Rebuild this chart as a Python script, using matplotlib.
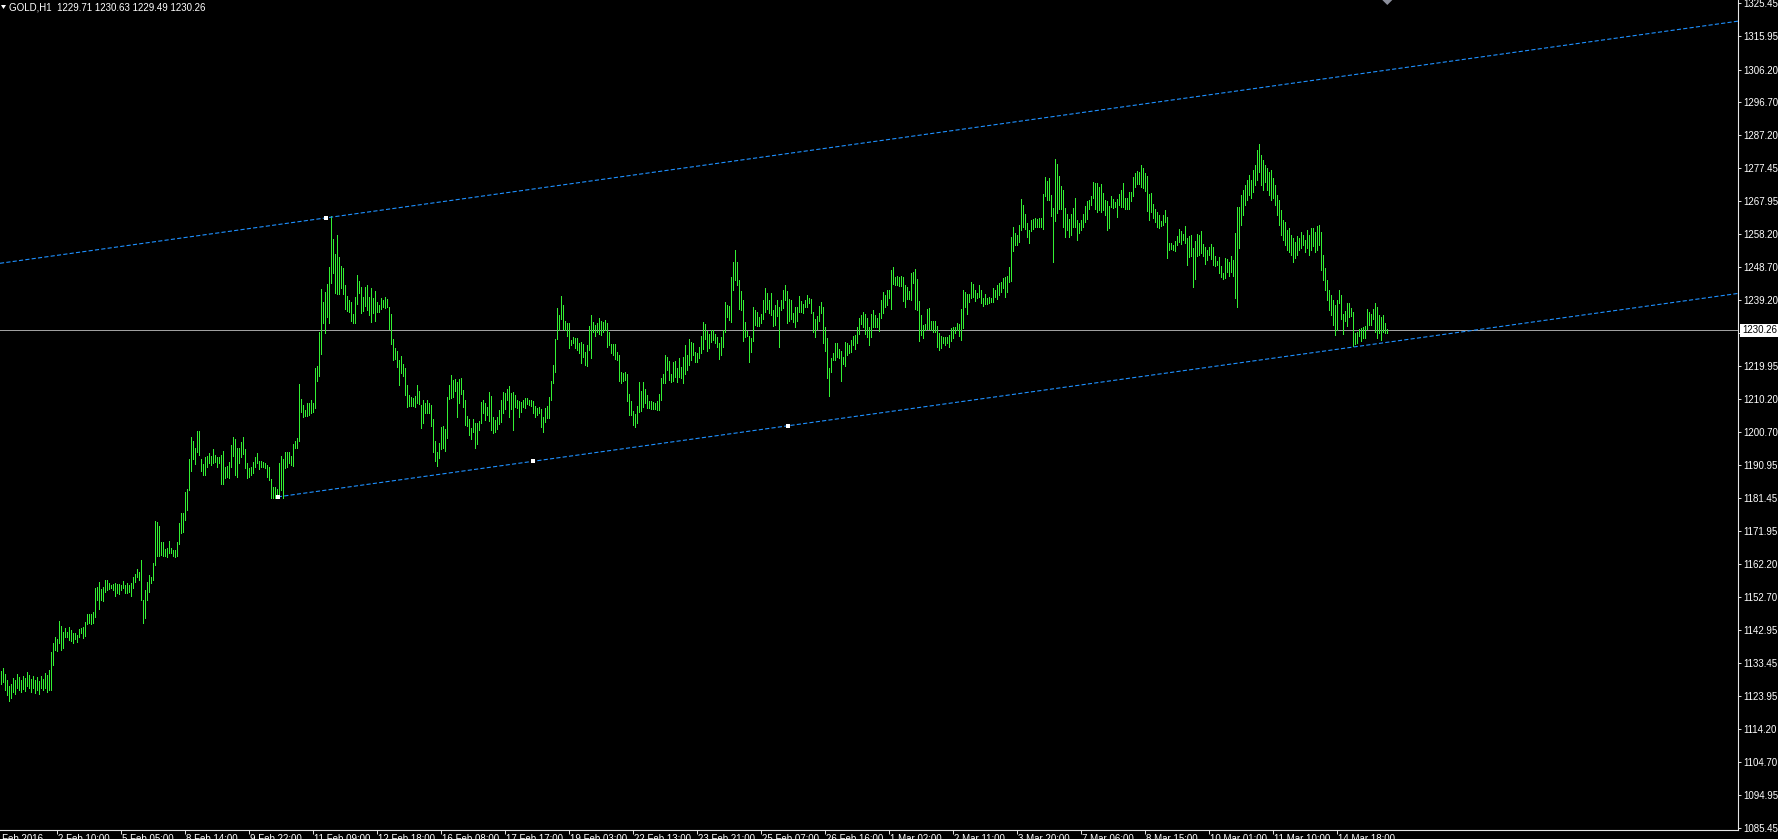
import matplotlib
matplotlib.use("Agg")
import matplotlib.pyplot as plt
from matplotlib.transforms import blended_transform_factory
from matplotlib.patches import Polygon

plt.rcParams['font.family'] = ['Liberation Sans', 'DejaVu Sans']
plt.rcParams['lines.scale_dashes'] = False

# GOLD H1 bars (high / low per bar)
highs = [
    1131.1, 1132.0, 1130.2, 1128.5, 1126.7, 1127.3, 1129.1, 1128.5, 1130.2, 1129.3,
    1128.5, 1129.6, 1129.1, 1130.8, 1129.9, 1128.8, 1129.6, 1128.5, 1129.3, 1128.2,
    1129.6, 1128.8, 1130.5, 1129.9, 1131.4, 1136.6, 1139.3, 1141.0, 1140.4, 1145.7,
    1144.2, 1142.5, 1143.6, 1142.5, 1143.9, 1143.0, 1142.2, 1142.2, 1141.6, 1143.3,
    1143.6, 1143.9, 1145.4, 1147.7, 1147.7, 1147.7, 1148.3, 1155.3, 1155.6, 1157.0,
    1155.0, 1155.6, 1157.6, 1157.6, 1156.7, 1156.1, 1156.4, 1156.7, 1156.4, 1156.4,
    1156.1, 1157.3, 1156.1, 1156.7, 1156.1, 1156.7, 1158.5, 1159.3, 1160.8, 1159.9,
    1163.4, 1151.8, 1154.7, 1157.0, 1159.1, 1158.5, 1162.5, 1174.8, 1174.5, 1173.3,
    1168.7, 1168.7, 1166.6, 1166.9, 1169.0, 1166.9, 1166.3, 1166.3, 1168.7, 1174.2,
    1177.1, 1177.1, 1183.2, 1184.1, 1192.8, 1199.2, 1198.1, 1196.0, 1201.0, 1201.0,
    1192.8, 1191.4, 1193.4, 1193.7, 1194.6, 1193.7, 1195.7, 1194.0, 1193.4, 1193.4,
    1194.0, 1195.1, 1190.5, 1190.8, 1192.0, 1196.9, 1199.2, 1198.6, 1196.0, 1196.0,
    1197.8, 1199.2, 1195.7, 1191.7, 1190.2, 1190.5, 1192.0, 1193.4, 1194.6, 1192.2,
    1192.2, 1192.0, 1191.7, 1191.1, 1190.5, 1187.0, 1184.7, 1184.7, 1184.1, 1191.7,
    1193.7, 1192.8, 1194.9, 1194.9, 1194.9, 1193.7, 1197.2, 1198.1, 1198.9, 1214.6,
    1210.3, 1208.5, 1207.1, 1209.1, 1209.1, 1210.0, 1209.1, 1219.3, 1219.9, 1229.8,
    1242.3, 1238.5, 1241.4, 1243.8, 1248.7, 1263.6, 1256.9, 1252.5, 1258.0, 1251.6,
    1249.0, 1248.4, 1243.5, 1240.3, 1239.1, 1238.5, 1235.0, 1240.0, 1246.4, 1244.6,
    1242.9, 1240.0, 1242.9, 1243.5, 1240.0, 1242.6, 1239.7, 1241.7, 1238.5, 1237.6,
    1239.7, 1239.1, 1240.0, 1239.4, 1237.1, 1235.0, 1227.8, 1225.1, 1224.3, 1221.6,
    1222.8, 1220.5, 1219.3, 1214.4, 1211.5, 1210.9, 1210.6, 1211.2, 1214.4, 1212.6,
    1208.5, 1210.0, 1209.1, 1210.0, 1209.1, 1208.5, 1204.5, 1198.1, 1194.9, 1197.5,
    1202.1, 1202.4, 1201.5, 1210.9, 1214.4, 1217.3, 1215.8, 1216.1, 1215.2, 1216.1,
    1216.4, 1212.9, 1210.0, 1205.3, 1204.5, 1201.8, 1204.5, 1203.3, 1203.3, 1203.9,
    1209.4, 1210.0, 1209.1, 1208.0, 1212.3, 1211.2, 1205.0, 1204.2, 1205.0, 1207.1,
    1210.0, 1212.3, 1212.0, 1213.2, 1214.1, 1212.0, 1212.3, 1211.5, 1210.0, 1209.7,
    1209.4, 1210.0, 1210.6, 1210.6, 1210.0, 1210.0, 1209.7, 1208.2, 1207.7, 1208.0,
    1207.4, 1205.0, 1207.7, 1208.2, 1210.9, 1215.5, 1220.2, 1227.8, 1236.8, 1234.7,
    1240.3, 1237.6, 1233.0, 1232.4, 1232.4, 1227.5, 1228.3, 1228.0, 1228.0, 1226.6,
    1226.9, 1226.3, 1224.0, 1226.0, 1231.5, 1234.7, 1232.7, 1231.8, 1232.4, 1233.9,
    1233.0, 1232.7, 1233.3, 1232.4, 1229.8, 1226.3, 1226.3, 1226.3, 1224.0, 1223.1,
    1218.1, 1217.9, 1218.1, 1217.6, 1211.7, 1209.7, 1206.8, 1205.9, 1208.2, 1215.2,
    1212.6, 1215.2, 1213.2, 1211.5, 1209.7, 1209.7, 1209.4, 1209.1, 1209.7, 1211.7,
    1216.4, 1217.6, 1223.1, 1222.5, 1221.3, 1217.6, 1221.0, 1221.3, 1219.3, 1222.2,
    1219.6, 1222.5, 1226.0, 1223.1, 1227.8, 1226.9, 1226.6, 1224.0, 1223.7, 1225.4,
    1228.6, 1232.7, 1232.1, 1230.1, 1229.2, 1230.4, 1230.4, 1229.2, 1228.3, 1226.6,
    1228.3, 1230.4, 1238.5, 1237.6, 1237.4, 1245.8, 1250.2, 1253.7, 1250.2, 1244.9,
    1241.7, 1239.1, 1232.7, 1230.1, 1228.6, 1228.0, 1237.1, 1236.2, 1235.6, 1234.2,
    1235.0, 1239.1, 1242.6, 1241.1, 1239.1, 1241.1, 1236.2, 1237.6, 1239.1, 1237.1,
    1239.1, 1242.0, 1243.5, 1241.7, 1239.4, 1239.1, 1235.3, 1237.1, 1237.1, 1240.3,
    1238.8, 1237.9, 1239.1, 1240.6, 1239.7, 1239.4, 1235.6, 1233.6, 1234.4, 1237.4,
    1238.5, 1237.1, 1231.2, 1228.0, 1219.3, 1222.2, 1223.7, 1226.6, 1226.6, 1224.8,
    1224.3, 1222.5, 1226.9, 1226.6, 1226.0, 1227.5, 1228.6, 1228.9, 1231.2, 1233.9,
    1234.7, 1235.6, 1235.0, 1233.9, 1231.2, 1235.0, 1236.2, 1234.7, 1233.9, 1235.3,
    1239.1, 1241.4, 1240.6, 1242.0, 1242.0, 1247.8, 1248.7, 1245.8, 1246.1, 1245.8,
    1246.1, 1245.8, 1243.5, 1242.9, 1241.7, 1247.0, 1247.3, 1248.1, 1245.2, 1238.8,
    1234.7, 1231.8, 1232.1, 1236.5, 1236.8, 1233.0, 1233.0, 1233.0, 1231.5, 1229.5,
    1228.6, 1228.3, 1228.3, 1228.3, 1228.9, 1231.0, 1231.2, 1231.2, 1232.4, 1232.1,
    1236.5, 1242.0, 1241.4, 1240.9, 1240.9, 1244.3, 1243.8, 1242.0, 1241.1, 1243.5,
    1242.0, 1239.7, 1240.9, 1239.7, 1240.0, 1239.7, 1242.6, 1242.0, 1243.5, 1244.1,
    1244.3, 1245.5, 1245.8, 1246.1, 1248.7, 1257.4, 1260.4, 1258.6, 1258.0, 1260.9,
    1268.5, 1266.8, 1264.1, 1261.5, 1259.5, 1262.4, 1262.7, 1263.0, 1262.7, 1263.0,
    1263.0, 1270.0, 1274.9, 1273.7, 1274.6, 1269.7, 1265.9, 1280.1, 1278.7, 1275.2,
    1272.3, 1271.1, 1265.9, 1264.1, 1262.7, 1264.1, 1265.9, 1268.8, 1262.4, 1261.5,
    1262.4, 1264.1, 1266.5, 1267.9, 1268.2, 1269.4, 1273.5, 1273.2, 1273.2, 1272.0,
    1272.9, 1270.3, 1268.2, 1267.9, 1266.5, 1269.4, 1268.5, 1267.6, 1268.5, 1270.0,
    1271.1, 1273.2, 1268.8, 1268.8, 1270.5, 1270.5, 1274.9, 1276.1, 1276.7, 1276.4,
    1278.4, 1277.5, 1276.1, 1275.2, 1270.0, 1270.3, 1267.1, 1265.6, 1264.7, 1263.9,
    1262.1, 1263.9, 1265.3, 1263.3, 1255.7, 1255.7, 1255.1, 1256.3, 1257.7, 1259.8,
    1259.2, 1258.3, 1260.6, 1257.2, 1257.7, 1258.0, 1254.2, 1256.3, 1258.3, 1258.0,
    1259.2, 1255.4, 1254.5, 1253.7, 1254.5, 1255.4, 1254.5, 1251.9, 1250.5, 1251.6,
    1249.0, 1247.0, 1251.3, 1251.0, 1250.2, 1251.9, 1250.8, 1258.6, 1266.2, 1266.2,
    1269.7, 1271.1, 1272.6, 1274.0, 1275.5, 1274.0, 1276.9, 1278.4, 1282.8, 1284.5,
    1281.3, 1279.9, 1278.4, 1277.5, 1276.4, 1276.9, 1274.6, 1272.6, 1269.7, 1268.2,
    1265.3, 1262.4, 1261.8, 1259.5, 1260.1, 1258.0, 1257.2, 1256.0, 1257.7, 1257.2,
    1258.9, 1258.0, 1256.6, 1259.5, 1258.0, 1260.1, 1260.1, 1258.9, 1260.6, 1260.9,
    1258.9, 1252.2, 1248.4, 1244.9, 1242.0, 1240.6, 1239.1, 1237.6, 1239.1, 1242.0,
    1240.6, 1235.0, 1235.9, 1238.2, 1238.2, 1236.8, 1235.6, 1229.5, 1229.8, 1230.7,
    1231.0, 1231.2, 1231.5, 1236.5, 1235.6, 1235.0, 1236.5, 1238.2, 1237.1, 1234.7,
    1234.2, 1234.7, 1232.4, 1230.63,
]
lows = [
    1127.3, 1127.9, 1125.6, 1124.1, 1122.4, 1123.2, 1125.0, 1124.4, 1126.2, 1125.6,
    1125.0, 1125.9, 1125.3, 1126.7, 1126.2, 1125.0, 1126.2, 1124.7, 1125.6, 1124.4,
    1126.2, 1125.6, 1126.2, 1125.0, 1125.6, 1125.6, 1132.8, 1137.2, 1136.9, 1139.3,
    1137.2, 1137.8, 1141.0, 1141.0, 1140.1, 1139.8, 1139.3, 1140.4, 1139.6, 1141.0,
    1142.2, 1140.7, 1141.3, 1144.8, 1145.1, 1144.8, 1145.1, 1146.8, 1151.8, 1149.2,
    1151.8, 1151.5, 1154.1, 1154.7, 1155.0, 1155.3, 1154.7, 1152.9, 1153.8, 1153.5,
    1154.7, 1155.3, 1153.8, 1153.8, 1154.1, 1152.9, 1155.3, 1157.0, 1158.5, 1157.6,
    1151.8, 1145.1, 1146.5, 1151.8, 1154.1, 1156.7, 1157.6, 1161.9, 1164.6, 1164.6,
    1164.9, 1164.6, 1164.6, 1164.3, 1165.5, 1165.5, 1164.6, 1164.3, 1164.6, 1168.1,
    1171.3, 1171.6, 1175.1, 1178.0, 1183.8, 1189.3, 1192.8, 1191.4, 1194.9, 1194.0,
    1189.3, 1188.2, 1188.2, 1190.5, 1191.7, 1191.1, 1191.7, 1192.0, 1190.5, 1191.7,
    1185.5, 1185.5, 1187.3, 1187.6, 1187.3, 1190.5, 1193.7, 1188.2, 1187.6, 1191.7,
    1193.4, 1194.3, 1190.2, 1187.3, 1187.6, 1188.2, 1188.7, 1190.5, 1191.7, 1189.9,
    1190.5, 1190.5, 1190.2, 1187.6, 1186.7, 1181.5, 1181.5, 1181.5, 1181.5, 1181.5,
    1183.8, 1181.5, 1190.2, 1190.5, 1191.7, 1191.1, 1190.8, 1196.0, 1196.0, 1198.1,
    1206.5, 1205.0, 1205.3, 1205.3, 1205.6, 1206.2, 1206.5, 1207.7, 1215.5, 1217.0,
    1223.4, 1232.4, 1229.5, 1234.2, 1232.4, 1244.1, 1247.0, 1241.1, 1240.8, 1240.8,
    1242.6, 1240.8, 1236.5, 1235.9, 1235.6, 1233.0, 1232.4, 1232.4, 1238.0, 1241.1,
    1235.3, 1235.9, 1237.4, 1236.2, 1234.7, 1232.7, 1235.3, 1233.0, 1235.6, 1235.6,
    1236.5, 1237.1, 1236.8, 1237.1, 1230.7, 1226.3, 1221.6, 1221.9, 1219.6, 1214.4,
    1217.9, 1217.0, 1211.5, 1208.0, 1208.2, 1208.2, 1208.2, 1208.0, 1209.1, 1208.8,
    1201.8, 1203.3, 1206.2, 1206.2, 1206.2, 1202.4, 1194.9, 1192.2, 1190.8, 1193.1,
    1195.7, 1196.0, 1195.1, 1198.9, 1210.3, 1210.6, 1210.9, 1212.6, 1205.0, 1209.1,
    1211.7, 1208.0, 1202.7, 1202.4, 1199.8, 1198.6, 1200.7, 1196.0, 1197.2, 1201.3,
    1203.3, 1206.2, 1204.2, 1205.6, 1203.9, 1201.3, 1200.4, 1200.7, 1201.5, 1203.0,
    1203.6, 1206.2, 1207.4, 1210.0, 1205.0, 1207.4, 1201.3, 1208.0, 1207.7, 1205.0,
    1206.5, 1208.0, 1207.7, 1208.8, 1208.5, 1208.2, 1206.2, 1205.0, 1205.6, 1206.2,
    1202.1, 1200.7, 1203.6, 1204.8, 1204.8, 1210.0, 1214.9, 1218.1, 1227.8, 1230.4,
    1233.6, 1230.7, 1230.4, 1228.6, 1225.1, 1226.0, 1226.6, 1225.1, 1224.6, 1223.7,
    1220.8, 1222.5, 1220.2, 1219.9, 1224.6, 1222.2, 1229.8, 1228.6, 1229.8, 1229.2,
    1228.9, 1229.8, 1230.4, 1225.4, 1226.0, 1223.7, 1223.1, 1221.9, 1221.6, 1215.5,
    1214.9, 1215.5, 1215.8, 1209.7, 1205.6, 1205.6, 1202.7, 1202.1, 1203.3, 1206.5,
    1206.8, 1208.0, 1209.1, 1207.7, 1207.7, 1207.4, 1207.4, 1207.4, 1207.1, 1207.1,
    1210.0, 1214.9, 1214.9, 1218.7, 1215.8, 1215.2, 1215.5, 1216.7, 1215.2, 1216.7,
    1216.4, 1214.9, 1217.6, 1218.7, 1220.2, 1221.6, 1223.1, 1221.0, 1221.0, 1222.2,
    1223.7, 1224.8, 1227.8, 1224.3, 1225.1, 1226.9, 1227.5, 1226.6, 1225.4, 1221.9,
    1223.1, 1225.4, 1229.8, 1234.2, 1233.3, 1232.7, 1242.0, 1244.9, 1243.5, 1236.5,
    1236.2, 1227.2, 1228.3, 1228.6, 1221.0, 1224.0, 1227.2, 1231.8, 1231.5, 1231.5,
    1232.4, 1233.6, 1235.6, 1236.5, 1235.3, 1234.7, 1231.5, 1231.8, 1234.4, 1225.4,
    1236.2, 1236.8, 1239.1, 1232.4, 1233.0, 1233.6, 1232.7, 1231.2, 1233.0, 1235.6,
    1235.6, 1235.3, 1237.1, 1237.1, 1238.2, 1235.3, 1229.8, 1228.3, 1230.7, 1233.0,
    1235.3, 1226.6, 1224.3, 1216.4, 1211.2, 1218.1, 1221.6, 1221.6, 1222.5, 1222.2,
    1215.5, 1220.5, 1219.9, 1223.1, 1223.7, 1224.0, 1226.0, 1224.8, 1226.6, 1229.2,
    1232.1, 1231.2, 1229.2, 1228.3, 1226.0, 1228.3, 1231.2, 1231.2, 1231.2, 1230.1,
    1233.9, 1235.3, 1237.1, 1237.6, 1239.7, 1236.5, 1243.8, 1243.5, 1243.5, 1243.2,
    1243.2, 1238.8, 1237.1, 1239.4, 1239.4, 1239.1, 1244.1, 1236.5, 1236.2, 1227.2,
    1228.9, 1228.0, 1230.4, 1230.7, 1230.7, 1230.4, 1229.8, 1229.8, 1225.4, 1224.6,
    1225.1, 1226.6, 1226.0, 1226.6, 1225.4, 1227.2, 1228.0, 1229.5, 1230.4, 1228.6,
    1227.5, 1230.9, 1237.1, 1235.0, 1238.5, 1239.7, 1240.0, 1238.8, 1239.7, 1240.0,
    1238.2, 1237.4, 1238.0, 1238.0, 1238.2, 1238.5, 1238.5, 1240.0, 1239.4, 1240.6,
    1241.4, 1242.6, 1240.0, 1241.4, 1244.3, 1244.6, 1253.4, 1255.1, 1255.1, 1256.0,
    1259.5, 1260.4, 1259.8, 1257.4, 1255.7, 1259.2, 1259.8, 1260.4, 1260.4, 1260.4,
    1260.4, 1259.8, 1269.4, 1268.2, 1268.2, 1263.6, 1250.2, 1262.1, 1264.4, 1265.6,
    1265.6, 1260.4, 1257.4, 1259.5, 1257.4, 1258.0, 1260.4, 1260.4, 1256.6, 1258.6,
    1259.5, 1260.4, 1261.8, 1262.7, 1265.6, 1266.8, 1268.8, 1265.6, 1264.7, 1265.3,
    1264.7, 1265.3, 1263.8, 1259.5, 1260.1, 1266.2, 1265.9, 1266.2, 1263.3, 1266.8,
    1266.2, 1266.2, 1265.6, 1265.6, 1265.6, 1267.9, 1269.4, 1272.0, 1272.9, 1272.9,
    1272.0, 1271.7, 1270.8, 1265.0, 1262.4, 1264.7, 1263.0, 1261.8, 1260.4, 1260.1,
    1260.6, 1260.9, 1261.8, 1251.3, 1253.7, 1253.9, 1253.7, 1253.4, 1255.1, 1256.0,
    1255.4, 1256.6, 1255.7, 1249.3, 1251.6, 1251.9, 1242.9, 1245.2, 1251.9, 1252.2,
    1252.8, 1251.9, 1249.6, 1250.8, 1252.2, 1251.0, 1249.3, 1249.0, 1249.3, 1247.0,
    1245.8, 1245.2, 1245.5, 1247.3, 1246.1, 1247.3, 1246.1, 1239.7, 1237.1, 1254.2,
    1260.9, 1263.9, 1266.8, 1268.2, 1269.7, 1268.8, 1270.5, 1272.6, 1274.0, 1276.4,
    1272.6, 1271.1, 1273.5, 1271.1, 1269.7, 1268.2, 1268.8, 1266.8, 1263.9, 1260.9,
    1258.0, 1256.6, 1255.1, 1253.7, 1253.1, 1252.2, 1250.2, 1251.3, 1252.2, 1253.7,
    1254.2, 1255.1, 1253.1, 1254.2, 1252.2, 1253.7, 1254.8, 1253.1, 1253.7, 1255.1,
    1247.8, 1244.9, 1242.0, 1239.1, 1236.2, 1234.7, 1231.8, 1228.9, 1230.4, 1238.2,
    1233.6, 1229.2, 1233.0, 1231.5, 1234.2, 1234.4, 1225.7, 1226.3, 1226.6, 1228.6,
    1227.2, 1228.0, 1228.0, 1230.7, 1231.8, 1231.8, 1233.6, 1229.8, 1228.0, 1229.5,
    1227.5, 1229.8, 1229.5, 1229.49,
]

last_price = 1230.26
header = "GOLD,H1  1229.71 1230.63 1229.49 1230.26"

price_ticks = [1325.45, 1315.95, 1306.20, 1296.70, 1287.20, 1277.45, 1267.95,
               1258.20, 1248.70, 1239.20, 1229.45, 1219.95, 1210.20, 1200.70,
               1190.95, 1181.45, 1171.95, 1162.20, 1152.70, 1142.95, 1133.45,
               1123.95, 1114.20, 1104.70, 1094.95, 1085.45]

first_label = "1 Feb 2016"
time_labels = ["2 Feb 10:00", "5 Feb 05:00", "8 Feb 14:00", "9 Feb 22:00",
               "11 Feb 09:00", "12 Feb 18:00", "16 Feb 08:00", "17 Feb 17:00",
               "19 Feb 03:00", "22 Feb 13:00", "23 Feb 21:00", "25 Feb 07:00",
               "26 Feb 16:00", "1 Mar 02:00", "2 Mar 11:00", "3 Mar 20:00",
               "7 Mar 06:00", "8 Mar 15:00", "10 Mar 01:00", "11 Mar 10:00",
               "14 Mar 18:00"]

# channel anchors (bar index, price)
chan_base = [(138.3, 1181.8), (393.5, 1202.5)]
chan_mid = (265.9, 1192.15)
chan_top = (162.2, 1263.0)

W, H = 1778, 839
fig = plt.figure(figsize=(W / 100, H / 100), dpi=100, facecolor="black")
ax = fig.add_axes([0, 1 - 830 / H, 1738 / W, 830 / H], facecolor="black")

x0, x1 = -0.65, -0.65 + 1738 / 2
ax.set_xlim(x0, x1)
ax.set_ylim(1084.81, 1326.44)

bars = list(range(len(highs)))
ax.vlines(bars, lows, highs, colors="#33f033", linewidth=0.7, antialiased=False, zorder=3)

# current price line
ax.axhline(last_price, color="#a0a0a0", linewidth=0.72, antialiased=False, zorder=2)

# equidistant channel
slope = (chan_base[1][1] - chan_base[0][1]) / (chan_base[1][0] - chan_base[0][0])
bx = [chan_base[0][0], x1]
by = [chan_base[0][1], chan_base[0][1] + slope * (x1 - chan_base[0][0])]
tx = [x0, x1]
ty = [chan_top[1] + slope * (x - chan_top[0]) for x in tx]
for xs, ys in [(bx, by), (tx, ty)]:
    ln, = ax.plot(xs, ys, color="#1e90ff", linewidth=0.8, zorder=4)
    ln.set_dashes((3.0, 1.6))
mx = [chan_base[0][0], chan_mid[0], chan_base[1][0], chan_top[0]]
my = [chan_base[0][1], chan_mid[1], chan_base[1][1], chan_top[1]]
ax.plot(mx, my, linestyle="none", marker="s", markersize=2.4, color="white",
        markeredgewidth=0, zorder=5)

# axes styling
for side in ["left", "top"]:
    ax.spines[side].set_visible(False)
for side in ["right", "bottom"]:
    ax.spines[side].set_color("#e6e6e6")
    ax.spines[side].set_linewidth(0.8)

ax.yaxis.tick_right()
ax.set_yticks(price_ticks)
# the label under the last-price box is hidden, as on the terminal
ax.set_yticklabels(["" if abs(p - last_price) < 2 else "%.2f" % p for p in price_ticks])
ax.tick_params(axis="y", colors="#e6e6e6", labelcolor="white", length=2.5,
               width=0.7, pad=1.5, labelsize=7)

tick_bars = [28 + 32 * k for k in range(len(time_labels))]
ax.set_xticks(tick_bars)
ax.set_xticklabels([])
ax.tick_params(axis="x", colors="#e6e6e6", length=3, width=0.7)

trans = blended_transform_factory(ax.transData, ax.transAxes)
for b, lab in zip([-4.5] + tick_bars, [first_label] + time_labels):
    ax.text(b + 0.6, -4.0 / 830, lab, transform=trans, ha="left", va="top",
            color="white", fontsize=7, clip_on=False)

# last price label box on the price scale
ptrans = blended_transform_factory(ax.transAxes, ax.transData)
ax.text(1.0 + 4.0 / 1738, last_price, "%.2f" % last_price, transform=ptrans,
        ha="left", va="center", color="black", fontsize=7, clip_on=False, zorder=10,
        bbox=dict(boxstyle="square,pad=0.18", fc="white", ec="none"))

# header text and small markers
def fx(px):
    return px / W

def fy(py):
    return 1 - py / H

fig.patches.append(Polygon([(fx(1), fy(5)), (fx(6), fy(5)), (fx(3.5), fy(9))],
                           closed=True, transform=fig.transFigure, fc="white", ec="none"))
fig.text(fx(9), fy(7.5), header, color="white", fontsize=7, ha="left", va="center")

sx = 1.3 + 2 * bars[-1]
fig.patches.append(Polygon([(fx(sx - 5), fy(0)), (fx(sx + 5), fy(0)), (fx(sx), fy(5))],
                           closed=True, transform=fig.transFigure, fc="#8c8f9c", ec="none"))

fig.savefig("out.png", dpi=100, facecolor="black")
